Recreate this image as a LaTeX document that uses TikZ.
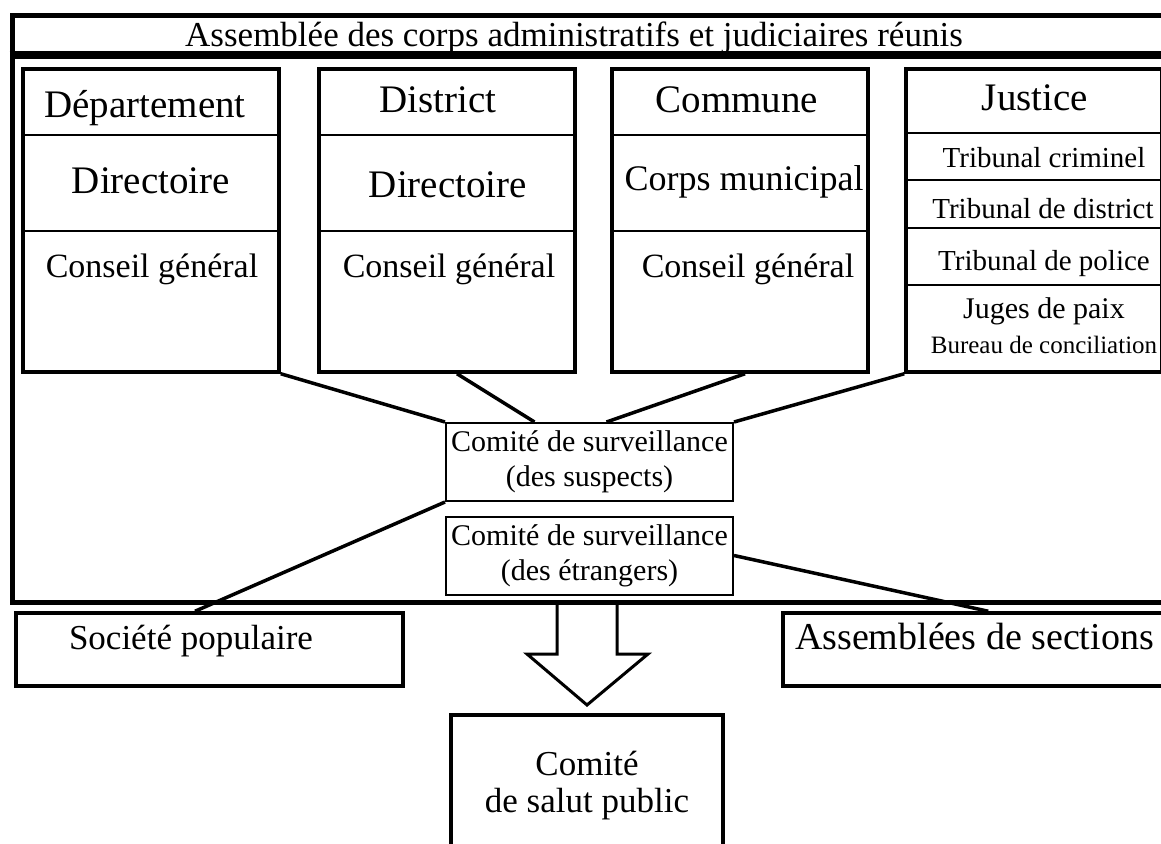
\documentclass[tikz,border=0pt]{standalone}
\usepackage{fontspec}
\setmainfont{Liberation Serif}
\usetikzlibrary{positioning}

\newcommand{\taille}[2]{\fontsize{#1pt}{#2pt}\selectfont}

\begin{document}
\begin{tikzpicture}[x=1pt,y=-1pt,
    every node/.style={inner sep=0pt},
    colonne/.style={draw, line width=3.5pt, minimum width=256pt, minimum height=303pt},
    sep/.style={line width=2.5pt},
    tete/.style={anchor=base, font=\taille{39}{44}},
    conseil/.style={anchor=base, font=\taille{34}{40}},
    trib/.style={anchor=base, font=\taille{29}{34}},
    comite/.style={draw, line width=2pt, minimum width=287pt, minimum height=78pt,
      align=center, font=\taille{30}{35}},
    boite/.style={draw, line width=3.5pt, minimum height=73pt, align=flush left,
      text height=24pt, text depth=24pt},
    lien/.style={line width=3.5pt},
    fleche/.style={line width=3pt, line join=miter}]

    \useasboundingbox (0,0) rectangle (1161,843);
    \clip (0,0) rectangle (1161,843);

    % cadre de l'assemblee
    \node[draw, line width=5pt, minimum width=1160pt, minimum height=586pt] (cadre) at (592,309) {};
    \draw[line width=8pt] (cadre.west |- 0,55) -- (cadre.east |- 0,55);
    \node[anchor=base, font=\taille{35}{40}] (titre) at (574,47)
      {Assemblée des corps administratifs et judiciaires réunis};

    % les quatre colonnes
    \node[colonne] (dep) at (151,220.5) {};
    \node[colonne] (dis) at (447,220.5) {};
    \node[colonne] (com) at (740,220.5) {};
    \node[colonne] (jus) at (1034,220.5) {};
    \foreach \c in {dep,dis,com} {
      \foreach \y in {135,231} {
        \draw[sep] (\c.west |- 0,\y) -- (\c.east |- 0,\y);
      }
    }
    \foreach \y in {133,180,228,285} {
      \draw[sep] (jus.west |- 0,\y) -- (jus.east |- 0,\y);
    }

    \node[tete] (dep-t) at (145,117) {Département};
    \node[tete] (dep-d) at (151,193) {Directoire};
    \node[conseil] (dep-c) at (152,277) {Conseil général};

    \node[tete] (dis-t) at (438,112) {District};
    \node[tete] (dis-d) at (448,197) {Directoire};
    \node[conseil] (dis-c) at (449,277) {Conseil général};

    \node[tete] (com-t) at (737,112) {Commune};
    \node[anchor=base, font=\taille{36}{42}] (com-d) at (744,190) {Corps municipal};
    \node[conseil] (com-c) at (748,277) {Conseil général};

    \node[tete] (jus-t) at (1035,110) {Justice};
    \node[trib] (jus-1) at (1044,167) {Tribunal criminel};
    \node[trib] (jus-2) at (1043,218) {Tribunal de district};
    \node[trib] (jus-3) at (1044,270) {Tribunal de police};
    \node[anchor=base, font=\taille{30}{35}] (jus-4) at (1044,318) {Juges de paix};
    \node[anchor=base, font=\taille{25}{30}] (jus-5) at (1044,353) {Bureau de conciliation};

    % comites de surveillance
    \node[comite] (cs) at (589.5,462) {Comité de surveillance\\(des suspects)};
    \node[comite] (ce) at (589.5,555.5) {Comité de surveillance\\(des étrangers)};

    \draw[lien] (dep.south east) -- (cs.north west);
    \draw[lien] ([xshift=10pt]dis.south) -- ([xshift=-55pt]cs.north);
    \draw[lien] ([xshift=5pt]com.south) -- ([xshift=17pt]cs.north);
    \draw[lien] (jus.south west) -- (cs.north east);

    % en dehors
    \node[boite, text width=281pt, inner xsep=53pt, font=\taille{35}{40}] (soc) at (209.5,649.5)
      {Société populaire};
    \node[boite, text width=391pt, inner xsep=12pt, font=\taille{38}{44}] (asm) at (990.5,649.5)
      {Assemblées de sections};

    \draw[lien] (cs.south west) -- ([xshift=-14.5pt]soc.north);
    \draw[lien] (ce.east) -- ([xshift=207pt]asm.north west);

    \draw[fleche] (557,603) -- (557,654) -- (527,654) -- (587,705)
      -- (648,654) -- (617,654) -- (617,603);

    \node[draw, line width=3.5pt, minimum width=272pt, minimum height=142pt,
      align=center, font=\taille{35}{37}] (salut) at (587,786) {Comité\\de salut public};
  \end{tikzpicture}
\end{document}
